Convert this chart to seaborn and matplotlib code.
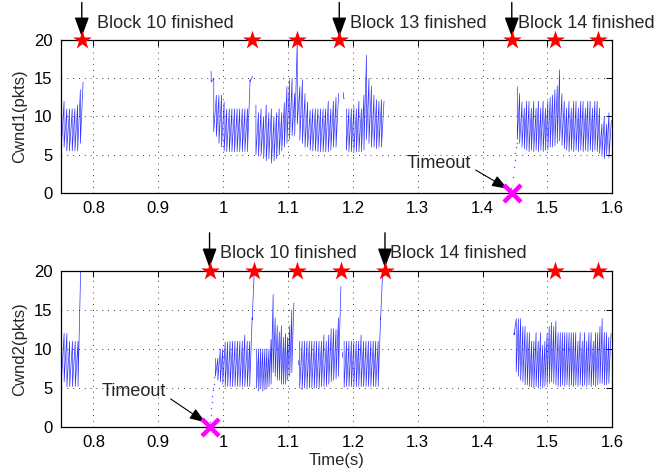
import numpy as np
import pandas as pd
import matplotlib
matplotlib.use("Agg")
import matplotlib.pyplot as plt
import seaborn as sns

sns.set_theme(style="white")
plt.rcParams["font.family"] = ["Liberation Sans", "DejaVu Sans"]

# ---------------------------------------------------------------- cwnd1 ----
# each burst: first/last drop time, peak before every drop, value right after it
c1_start = [0.7505, 0.9815, 1.0505, 1.1855, 1.1900, 1.4535]
c1_end = [0.7840, 1.0455, 1.1780, 1.1865, 1.2480, 1.5985]
c1_peaks = [
    [12, 12, 11, 11, 11, 11, 11.5, 13.5, 14.5],
    [15.9, 15, 12.8, 12.8, 12.8, 11.9, 11, 11, 11, 11, 11, 11, 11, 11, 11, 14.8, 15.3],
    [11.5, 10.5, 11, 10, 11.5, 10.5, 11, 10, 10.5, 11, 10.5, 11.8, 13.9, 14.8, 15, 13, 20,
     13.9, 14.8, 13, 11.9, 10.8, 11, 11, 11, 11, 11, 11, 12, 11, 12, 12.5, 13],
    [13.2, 12.4],
    [11, 11, 11, 11.3, 11, 12, 11, 12.8, 18, 15, 14, 12.8, 12.2, 12, 12.2, 12],
    [13.9, 13, 11.9, 11.1, 12, 12, 11.1, 12, 11.1, 12, 11.1, 12, 11.1, 12, 12.5, 12.8, 13.5,
     14, 16.1, 13, 12, 11.1, 12, 11.1, 12, 12, 11.1, 12, 12, 11.1, 12, 12, 11.1, 12, 12, 11.1,
     9, 10, 9, 10.5, 9.5],
]
c1_lows = [
    [6, 6, 5.5, 5.5, 5.5, 5.5, 5.5, 6.5],
    [14.5, 8, 7.4, 6.5, 6, 5.5, 5.4, 5.4, 5.4, 5.4, 5.4, 5.4, 5.4, 5.4, 5.4, 14.6],
    [5, 4.8, 5, 4.5, 4.2, 4.5, 3.9, 4.2, 4.5, 5, 5.5, 6, 6.5, 7, 7.5, 7.5, 9,
     6.9, 6.5, 6, 6, 5.6, 5.5, 5.5, 5.4, 5.4, 5.4, 5.4, 5.4, 5.6, 6, 6],
    [12.4],
    [5.6, 5.4, 5.4, 5.4, 5.4, 5.4, 5.4, 5.6, 7, 6.5, 6, 6, 5.8, 6, 6],
    [7, 6.5, 6, 5.8, 5.6, 5.4, 5.6, 5.4, 5.6, 5.4, 5.6, 5.4, 5.6, 5.6, 6, 6, 6.2, 6.5, 6.8, 6.2,
     5.8, 5.6, 5.4, 5.6, 5.4, 5.6, 5.4, 5.6, 5.4, 5.6, 5.4, 5.6, 5.4, 5.6, 5.4, 5.2, 4.8, 4.5, 5, 4.6],
]
c1_slow_t = [1.4443, 1.4468, 1.4478, 1.4494, 1.4504, 1.4515, 1.4525]
c1_slow_v = [0.6, 2.1, 3.4, 4.3, 5.2, 6.0, 6.5]
c1_block_t = [0.782, 1.044, 1.114, 1.179, 1.445, 1.511, 1.578]
c1_timeout_t = 1.445
c1_notes = ["Block 10 finished", "Block 13 finished", "Block 14 finished"]
c1_note_t = [0.782, 1.179, 1.445]
c1_note_x = [0.8060, 1.1960, 1.4540]

# ---------------------------------------------------------------- cwnd2 ----
c2_start = [0.7505, 0.9880, 1.0515, 1.1155, 1.1180, 1.1825, 1.1865, 1.4485]
c2_end = [0.7805, 1.0485, 1.1090, 1.1163, 1.1815, 1.1832, 1.2465, 1.5980]
c2_peaks = [
    [12, 12, 12, 11, 11, 11, 11, 21],
    [8.8, 8.8, 10, 10, 10.9, 10.9, 11, 11, 11, 11, 11, 11, 11.8, 11, 11, 14, 21],
    [10, 10, 10, 10, 10, 10, 10, 11.2, 17, 14, 13, 12.2, 13, 11.5, 12, 11.5, 13, 15, 15.9],
    [8.6, 8.1],
    [11, 11, 11, 11, 11, 11, 11, 11, 11, 11, 11.8, 11, 11.8, 12.6, 12.6, 12.5, 14, 18],
    [9.6, 9.0],
    [11, 11, 11, 11, 11, 11, 11, 11.8, 11, 11, 11, 11, 11, 11, 11, 14, 21],
    [12.1, 13.9, 13.9, 13.9, 12.9, 12.9, 12.1, 12.1, 11, 11, 12.1, 11, 12.1, 10.5, 11, 12,
     12.9, 13.4, 12.9, 13.6, 12.1, 12.1, 12.1, 12.1, 12.1, 12.1, 12.1, 12.1, 12.1, 11, 12.1,
     11, 12.1, 11, 12.1, 12.1, 11, 12.1, 12.1, 12.9, 13.9, 12.1, 12.1, 11.5, 12],
]
c2_lows = [
    [5.8, 5.8, 5.2, 5.2, 5.2, 5.2, 5.2],
    [6.5, 6, 5.8, 5.5, 5.2, 5.2, 5.2, 5.2, 5.2, 5.2, 5.2, 5.2, 5.2, 5.2, 5.2, 13.8],
    [5, 4.6, 5, 4.6, 4.8, 5, 5.2, 5.5, 7, 6.5, 6, 6, 5.5, 5.5, 5.5, 6, 6.5, 7],
    [8.1],
    [5, 4.8, 5, 5, 5, 5, 5, 5, 5, 5.2, 5.2, 5.2, 5.5, 5.8, 6, 6.2, 6.5],
    [9.0],
    [5.1, 5.2, 5.2, 5.2, 5.2, 5.2, 5.2, 5.2, 5.2, 5.2, 5.2, 5.2, 5.2, 5.2, 5.2, 13.8],
    [11.8, 7.1, 6.5, 6, 5.8, 5.4, 5.4, 5.2, 5.2, 5, 5.2, 5, 5.2, 5, 5.2, 5.4, 5.6, 5.8, 5.6, 5.4,
     5.2, 5.2, 5.4, 5.2, 5.4, 5.2, 5.4, 5.2, 5.4, 5.2, 5.4, 5.2, 5.4, 5.2, 5.4, 5.2, 5.4, 5.2,
     5.4, 5.6, 5.6, 5.4, 5.4, 5.6],
]
c2_slow_t = [0.9795, 0.9805, 0.9815, 0.9825, 0.9835, 0.9845, 0.9855, 0.9865]
c2_slow_v = [0.6, 1.5, 2.4, 3.2, 4.0, 4.8, 5.5, 6.4]
c2_block_t = [0.979, 1.048, 1.114, 1.182, 1.2495, 1.511, 1.578]
c2_timeout_t = 0.979
c2_notes = ["Block 10 finished", "Block 14 finished"]
c2_note_t = [0.979, 1.2495]
c2_note_x = [0.9950, 1.2580]

x_ticks = [0.8, 0.9, 1.0, 1.1, 1.2, 1.3, 1.4, 1.5, 1.6]
x_tick_labels = ["0.8", "0.9", "1", "1.1", "1.2", "1.3", "1.4", "1.5", "1.6"]
y_ticks = [0, 5, 10, 15, 20]


def sawtooth_frame(starts, ends, peaks, lows):
    """Vertices of each burst: linear growth up to a peak, vertical drop."""
    rows = []
    for k, (t0, t1, pk, lo) in enumerate(zip(starts, ends, peaks, lows)):
        step = (t1 - t0) / (len(pk) - 1) if len(pk) > 1 else 0.0
        for i, p in enumerate(pk):
            t = t0 + i * step
            rows.append((k, t, p))
            if i < len(lo):
                rows.append((k, t, lo[i]))
    return pd.DataFrame(rows, columns=["burst", "t", "cwnd"])


fig = plt.figure(figsize=(6.67, 4.72), dpi=100)
ax1 = fig.add_axes([0.0915, 0.5911, 0.8265, 0.3242])
ax2 = fig.add_axes([0.0915, 0.0953, 0.8265, 0.3305])

FS = 12
NOTE_FS = 13
panels = [
    (ax1, c1_start, c1_end, c1_peaks, c1_lows, c1_slow_t, c1_slow_v, c1_block_t,
     c1_timeout_t, c1_notes, c1_note_t, c1_note_x, "Cwnd1(pkts)",
     (1.2830, 3.9), (1.3894, 3.0), (1.4385, 0.55)),
    (ax2, c2_start, c2_end, c2_peaks, c2_lows, c2_slow_t, c2_slow_v, c2_block_t,
     c2_timeout_t, c2_notes, c2_note_t, c2_note_x, "Cwnd2(pkts)",
     (0.812, 4.5), (0.919, 3.6), (0.9725, 0.6)),
]

for (ax, st, en, pk, lo, ss_t, ss_v, blk_t, to_t, notes, note_t, note_x, ylab,
     to_text, to_tail, to_tip) in panels:
    df = sawtooth_frame(st, en, pk, lo)
    sns.lineplot(data=df, x="t", y="cwnd", units="burst", estimator=None, sort=False,
                 color="#0000ff", lw=0.5, alpha=0.8, ax=ax, legend=False)
    sns.scatterplot(x=ss_t, y=ss_v, s=1.2, color="#6060ff", linewidth=0, ax=ax)

    sns.scatterplot(x=blk_t, y=[20] * len(blk_t), marker="*", s=200, color="#ff0000",
                    linewidth=0, ax=ax, clip_on=False, zorder=5)
    ax.scatter([to_t], [0], marker="x", s=150, color="#ff00ff", linewidths=3.2,
               clip_on=False, zorder=6)

    for txt, t, tx in zip(notes, note_t, note_x):
        ax.annotate("", xy=(t, 20.4), xytext=(t, 24.9), xycoords="data",
                    annotation_clip=False,
                    arrowprops=dict(arrowstyle="-|>,head_length=0.6,head_width=0.22",
                                    mutation_scale=20, lw=1.0, color="black",
                                    shrinkA=0, shrinkB=0))
        ax.text(tx, 22.2, txt, fontsize=NOTE_FS, ha="left", va="center",
                clip_on=False)

    ax.text(to_text[0], to_text[1], "Timeout", fontsize=NOTE_FS, ha="left",
            va="center")
    ax.annotate("", xy=to_tip, xytext=to_tail, xycoords="data",
                arrowprops=dict(arrowstyle="-|>,head_length=0.6,head_width=0.22",
                                mutation_scale=16, lw=0.8, color="black",
                                shrinkA=0, shrinkB=0))

    ax.set_xlim(0.75, 1.6)
    ax.set_ylim(0, 20)
    ax.set_xticks(x_ticks)
    ax.set_xticklabels(x_tick_labels)
    ax.set_yticks(y_ticks)
    ax.tick_params(direction="in", top=True, right=True, length=4, width=0.7,
                   labelsize=FS, pad=6, colors="black")
    ax.grid(True, color="black", lw=0.6, linestyle=(0, (1, 6)))
    for sp in ax.spines.values():
        sp.set_color("black")
        sp.set_linewidth(0.9)
    ax.set_ylabel(ylab, fontsize=FS, labelpad=5)
    ax.set_xlabel("")

ax2.set_xlabel("Time(s)", fontsize=FS, labelpad=2)

fig.savefig("out.png", dpi=100, facecolor="white")
